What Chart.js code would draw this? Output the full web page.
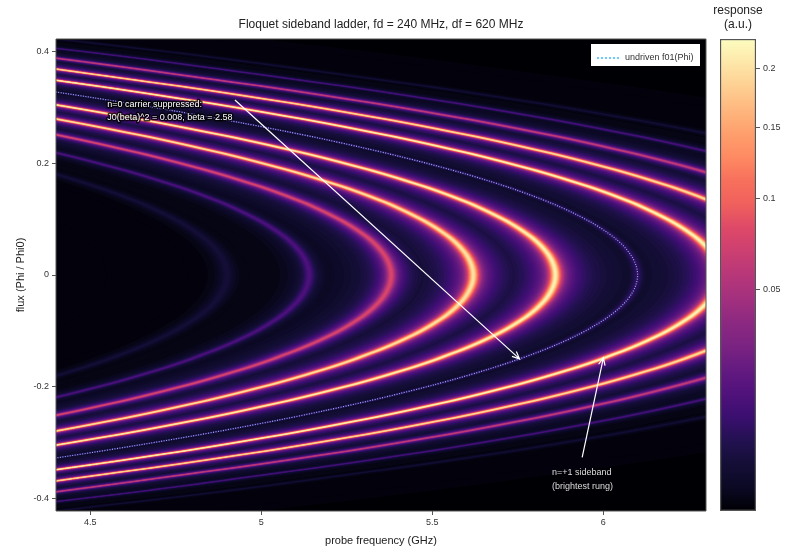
<!DOCTYPE html>
<html>
<head>
<meta charset="utf-8">
<title>Floquet sideband ladder</title>
<script src="https://cdn.jsdelivr.net/npm/chart.js@4/dist/chart.umd.js"></script>
<style>
  html, body { margin: 0; padding: 0; background: #fff; }
  #wrap { position: relative; width: 800px; height: 560px; overflow: hidden; }
  canvas { position: absolute; top: 0; }
  #mainChart { left: 0; }
  #barChart { left: 706px; }
</style>
</head>
<body>
<div id="wrap">
  <canvas id="mainChart" width="800" height="560"></canvas>
  <canvas id="barChart" width="94" height="560"></canvas>
</div>
<script>
// Flux rows (upper half, the picture is mirror symmetric around flux 0)
const fluxRows = [0, 0.03, 0.06, 0.09, 0.12, 0.15, 0.18, 0.21, 0.24, 0.27, 0.3, 0.33, 0.36, 0.39, 0.42];

// Rung frequency in GHz on each flux row
const rungM5 = [4.9, 4.886, 4.845, 4.776, 4.68, 4.555, 4.401, 4.218, 4.005, 3.76, 3.482, 3.169, 2.819, 2.45, 2.03];
const rungM4 = [5.14, 5.126, 5.085, 5.016, 4.92, 4.795, 4.641, 4.458, 4.245, 4.0, 3.722, 3.409, 3.059, 2.69, 2.27];
const rungM3 = [5.38, 5.366, 5.325, 5.256, 5.16, 5.035, 4.881, 4.698, 4.485, 4.24, 3.962, 3.649, 3.299, 2.93, 2.51];
const rungM2 = [5.62, 5.606, 5.565, 5.496, 5.4, 5.275, 5.121, 4.938, 4.725, 4.48, 4.202, 3.889, 3.539, 3.17, 2.75];
const rungM1 = [5.86, 5.846, 5.805, 5.736, 5.64, 5.515, 5.361, 5.178, 4.965, 4.72, 4.442, 4.129, 3.779, 3.41, 2.99];
const rungZero = [6.1, 6.086, 6.045, 5.976, 5.88, 5.755, 5.601, 5.418, 5.205, 4.96, 4.682, 4.369, 4.019, 3.65, 3.23];
const rungP1 = [6.34, 6.326, 6.285, 6.216, 6.12, 5.995, 5.841, 5.658, 5.445, 5.2, 4.922, 4.609, 4.259, 3.89, 3.47];
const rungP2 = [6.58, 6.566, 6.525, 6.456, 6.36, 6.235, 6.081, 5.898, 5.685, 5.44, 5.162, 4.849, 4.499, 4.13, 3.71];
const rungP3 = [6.82, 6.806, 6.765, 6.696, 6.6, 6.475, 6.321, 6.138, 5.925, 5.68, 5.402, 5.089, 4.739, 4.37, 3.95];
const rungP4 = [7.06, 7.046, 7.005, 6.936, 6.84, 6.715, 6.561, 6.378, 6.165, 5.92, 5.642, 5.329, 4.979, 4.61, 4.19];
const rungP5 = [7.3, 7.286, 7.245, 7.176, 7.08, 6.955, 6.801, 6.618, 6.405, 6.16, 5.882, 5.569, 5.219, 4.85, 4.43];

// Peak response of each rung in a.u., same order as rungs below
const rungs = [rungM5, rungM4, rungM3, rungM2, rungM1, rungZero, rungP1, rungP2, rungP3, rungP4, rungP5];
const rungPeaks = [0.0028, 0.014, 0.08, 0.205, 0.218, 0.008, 0.222, 0.2, 0.066, 0.013, 0.0025];

const xTicks = [4.5, 5, 5.5, 6];
const xTickLabels = ['4.5', '5', '5.5', '6'];
const yTicks = [-0.4, -0.2, 0, 0.2, 0.4];
const yTickLabels = ['-0.4', '-0.2', '0', '0.2', '0.4'];
const barTicks = [0.05, 0.1, 0.15, 0.2];
const barTickLabels = ['0.05', '0.1', '0.15', '0.2'];

const RESPONSE_MAX = 0.2276;
const LINE_HALF_WIDTH = 0.013; // GHz
const FONT = '"Liberation Sans", Arial, sans-serif';
const INK = '#333';
const FRAME = '#555';

// magma colour map, evenly spaced from 0 to 1
const magma = ['#000004', '#0b0924', '#140e36', '#231151', '#3b0f70', '#51127c', '#641a80', '#7b2382', '#8c2981', '#a3307e',
  '#b73779', '#cc3f71', '#de4968', '#f0605d', '#f7705c', '#fe8a62', '#fe9f6d', '#feb77e', '#fecf92', '#fde7a9', '#fcfdbf'];

function magmaAt(t) {
    const pos = t * (magma.length - 1);
    const i = Math.min(Math.floor(pos), magma.length - 2);
    const a = parseInt(magma[i].slice(1), 16);
    const b = parseInt(magma[i + 1].slice(1), 16);
    const mix = (shift) => {
        const ca = (a >> shift) & 255;
        const cb = (b >> shift) & 255;
        return Math.round(ca + (cb - ca) * (pos - i));
    };
    return `rgb(${mix(16)}, ${mix(8)}, ${mix(0)})`;
}

// colour steps of the bands, finer in the dark end where steps show most
const levels = [];
for (let t = 0.0125; t < 0.2; t += 0.0125) levels.push(t);
for (let t = 0.2; t < 1; t += 0.015) levels.push(t);

// both halves of a rung, from the bottom of the plot to the top, moved sideways by shift
function rungPoints(rung, shift) {
    const points = [];
    for (let i = fluxRows.length - 1; i > 0; i--) points.push({ x: rung[i] + shift, y: -fluxRows[i] });
    for (let i = 0; i < fluxRows.length; i++) points.push({ x: rung[i] + shift, y: fluxRows[i] });
    return points;
}

// Each colour step is one filled band per rung, dim and wide first, bright and narrow on top.
// The tails of the bright rungs add up between them, so their dim bands get wider.
const datasets = [];
levels.forEach((t, level) => {
    const color = magmaAt(t);
    rungs.forEach((rung, r) => {
        const peak = Math.sqrt(rungPeaks[r] / RESPONSE_MAX);
        if (peak <= t) return;
        const tailSum = Math.max(0, Math.min(1, (0.35 - t) / 0.25));
        const spread = peak > 0.5 ? 1 + 0.35 * tailSum : 1;
        const half = spread * LINE_HALF_WIDTH * Math.sqrt(Math.pow(peak / t, 2) - 1);
        const order = levels.length - level + 1;
        const base = { showLine: true, pointRadius: 0, borderWidth: 0, borderColor: 'transparent', cubicInterpolationMode: 'monotone', order: order };
        datasets.push({ ...base, data: rungPoints(rung, half), fill: '+1', backgroundColor: color });
        datasets.push({ ...base, data: rungPoints(rung, -half), fill: false });
    });
});

// undriven f01 as a dotted line over the bands
datasets.push({
    label: 'undriven f01(Phi)',
    data: rungPoints(rungZero, 0),
    showLine: true,
    pointRadius: 0,
    borderWidth: 1.2,
    borderDash: [1, 1.5],
    borderColor: 'rgba(150, 200, 255, 0.9)',
    cubicInterpolationMode: 'monotone',
    fill: false,
    order: 0
});

const plotBackground = {
    id: 'plotBackground',
    beforeDatasetsDraw(chart) {
        const { ctx, chartArea: a } = chart;
        ctx.save();
        ctx.fillStyle = magma[0];
        ctx.fillRect(a.left, a.top, a.width, a.height);
        ctx.restore();
    }
};

function drawArrow(chart, from, to) {
    const { ctx, scales } = chart;
    const x0 = scales.x.getPixelForValue(from[0]);
    const y0 = scales.y.getPixelForValue(from[1]);
    const x1 = scales.x.getPixelForValue(to[0]);
    const y1 = scales.y.getPixelForValue(to[1]);
    const angle = Math.atan2(y1 - y0, x1 - x0);
    ctx.beginPath();
    ctx.moveTo(x0, y0);
    ctx.lineTo(x1, y1);
    ctx.moveTo(x1 - 8 * Math.cos(angle - 0.42), y1 - 8 * Math.sin(angle - 0.42));
    ctx.lineTo(x1, y1);
    ctx.lineTo(x1 - 8 * Math.cos(angle + 0.42), y1 - 8 * Math.sin(angle + 0.42));
    ctx.strokeStyle = '#fff';
    ctx.lineWidth = 1.2;
    ctx.stroke();
}

const annotations = {
    id: 'annotations',
    afterDatasetsDraw(chart) {
        const { ctx, scales, chartArea: a } = chart;
        ctx.save();
        drawArrow(chart, [4.923, 0.313], [5.755, -0.15]);
        drawArrow(chart, [5.938, -0.326], [6.0, -0.148]);

        ctx.font = '9px ' + FONT;
        ctx.textBaseline = 'middle';
        ctx.textAlign = 'left';
        ctx.lineJoin = 'round';
        const carrierX = scales.x.getPixelForValue(4.55);
        [['n=0 carrier suppressed:', 0.305], ['J0(beta)^2 = 0.008, beta = 2.58', 0.282]].forEach(([text, flux]) => {
            const y = scales.y.getPixelForValue(flux);
            ctx.strokeStyle = 'rgba(0, 0, 0, 0.75)';
            ctx.lineWidth = 3;
            ctx.strokeText(text, carrierX, y);
            ctx.fillStyle = '#fff';
            ctx.fillText(text, carrierX, y);
        });

        const bandX = scales.x.getPixelForValue(5.85);
        ctx.fillStyle = '#ddd';
        ctx.fillText('n=+1 sideband', bandX, scales.y.getPixelForValue(-0.354));
        ctx.fillText('(brightest rung)', bandX, scales.y.getPixelForValue(-0.379));

        // legend box
        ctx.fillStyle = '#fff';
        ctx.fillRect(a.right - 115, a.top + 5, 109, 22);
        ctx.beginPath();
        ctx.moveTo(a.right - 109, a.top + 19);
        ctx.lineTo(a.right - 87, a.top + 19);
        ctx.setLineDash([2, 2]);
        ctx.strokeStyle = '#6ecbff';
        ctx.lineWidth = 2;
        ctx.stroke();
        ctx.setLineDash([]);
        ctx.fillStyle = INK;
        ctx.fillText('undriven f01(Phi)', a.right - 81, a.top + 19);

        // frame
        ctx.strokeStyle = FRAME;
        ctx.lineWidth = 1;
        ctx.strokeRect(a.left, a.top, a.width, a.height);
        ctx.restore();
    }
};

new Chart(document.getElementById('mainChart'), {
    type: 'line',
    data: { datasets: datasets },
    plugins: [plotBackground, annotations],
    options: {
        indexAxis: 'y',
        responsive: false,
        animation: false,
        events: [],
        devicePixelRatio: 1,
        layout: { padding: { left: 14, right: 94, top: 0, bottom: 12 } },
        plugins: {
            legend: { display: false },
            tooltip: { enabled: false },
            title: {
                display: true,
                fullSize: false,
                text: 'Floquet sideband ladder, fd = 240 MHz, df = 620 MHz',
                color: '#222',
                font: { family: FONT, size: 12, weight: 'normal' },
                padding: { top: 17, bottom: 7.6 }
            }
        },
        scales: {
            x: {
                type: 'linear',
                min: 4.4,
                max: 6.3,
                afterFit(scale) { scale.height = 37; },
                afterBuildTicks(scale) { scale.ticks = xTicks.map(v => ({ value: v })); },
                ticks: {
                    autoSkip: false,
                    maxRotation: 0,
                    padding: 2,
                    color: INK,
                    font: { family: FONT, size: 9 },
                    callback: (v, i) => xTickLabels[i]
                },
                grid: { drawOnChartArea: false, tickLength: 4, tickColor: FRAME },
                border: { display: false },
                title: { display: true, text: 'probe frequency (GHz)', color: '#222', font: { family: FONT, size: 11 }, padding: 0 }
            },
            y: {
                type: 'linear',
                min: -0.422,
                max: 0.422,
                afterFit(scale) { scale.width = 42; },
                afterBuildTicks(scale) { scale.ticks = yTicks.map(v => ({ value: v })); },
                ticks: {
                    autoSkip: false,
                    padding: 3,
                    color: INK,
                    font: { family: FONT, size: 9 },
                    callback: (v, i) => yTickLabels[i]
                },
                grid: { drawOnChartArea: false, tickLength: 4, tickColor: FRAME },
                border: { display: false },
                title: { display: true, text: 'flux (Phi / Phi0)', color: '#222', font: { family: FONT, size: 11 }, padding: 0 }
            }
        }
    }
});

// The bar's title sits over the narrow bar, wider than the bar itself
const barTitle = {
    id: 'barTitle',
    afterDraw(chart) {
        const { ctx, chartArea: a } = chart;
        const x = (a.left + a.right) / 2;
        ctx.save();
        ctx.font = '12px ' + FONT;
        ctx.fillStyle = '#222';
        ctx.textAlign = 'center';
        ctx.textBaseline = 'middle';
        ctx.fillText('response', x, a.top - 28);
        ctx.fillText('(a.u.)', x, a.top - 14);
        ctx.restore();
    }
};

// Colour bar: the value axis runs in square root of the response
new Chart(document.getElementById('barChart'), {
    type: 'bar',
    data: {
        labels: ['response'],
        datasets: [{
            data: [Math.sqrt(RESPONSE_MAX)],
            barPercentage: 1,
            categoryPercentage: 1,
            borderWidth: 1.5,
            borderColor: FRAME,
            borderSkipped: false,
            backgroundColor(ctx) {
                const a = ctx.chart.chartArea;
                if (!a) return magma[0];
                const gradient = ctx.chart.ctx.createLinearGradient(0, a.bottom, 0, a.top);
                magma.forEach((color, i) => gradient.addColorStop(i / (magma.length - 1), color));
                return gradient;
            }
        }]
    },
    plugins: [barTitle],
    options: {
        responsive: false,
        animation: false,
        events: [],
        devicePixelRatio: 1,
        layout: { padding: { left: 14, right: 0, top: 39, bottom: 49 } },
        plugins: {
            legend: { display: false },
            tooltip: { enabled: false }
        },
        scales: {
            x: { display: false },
            y: {
                position: 'right',
                min: 0,
                max: Math.sqrt(RESPONSE_MAX),
                afterFit(scale) { scale.width = 44; },
                afterBuildTicks(scale) { scale.ticks = barTicks.map(v => ({ value: Math.sqrt(v) })); },
                ticks: {
                    autoSkip: false,
                    padding: 3,
                    color: INK,
                    font: { family: FONT, size: 9 },
                    callback: (v, i) => barTickLabels[i]
                },
                grid: { drawOnChartArea: false, tickLength: 4, tickColor: FRAME },
                border: { display: false }
            }
        }
    }
});
</script>
</body>
</html>
